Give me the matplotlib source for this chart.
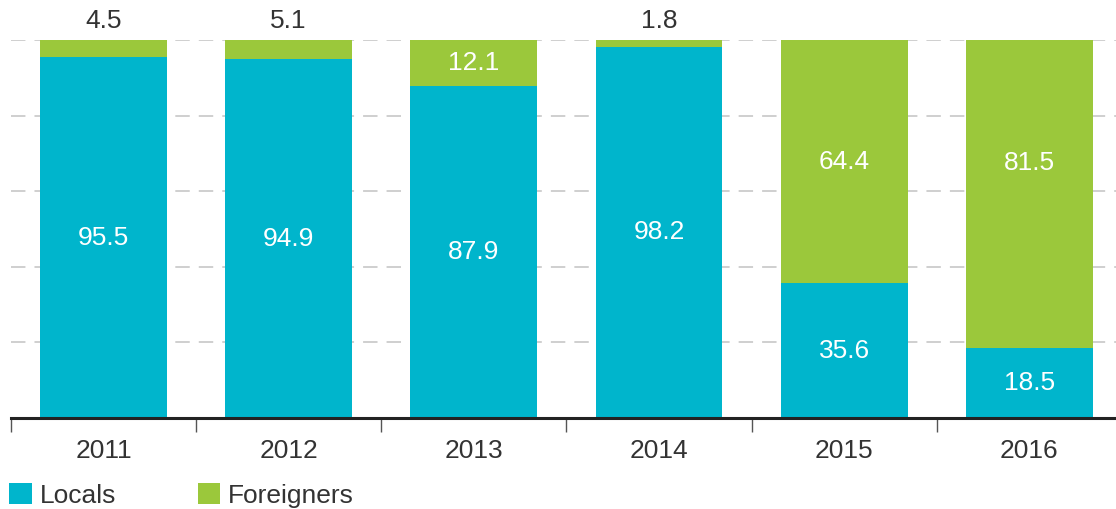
import matplotlib

matplotlib.use("Agg")

import matplotlib.pyplot as plt
import numpy as np
from matplotlib.patches import Patch

years = ["2011", "2012", "2013", "2014", "2015", "2016"]
locals_pct = [95.5, 94.9, 87.9, 98.2, 35.6, 18.5]
foreigners_pct = [4.5, 5.1, 12.1, 1.8, 64.4, 81.5]

TEAL = "#00b5cc"
GREEN = "#9bc83b"
TEXT = "#333333"
FS = 19

plt.rcParams["font.family"] = ["Liberation Sans", "DejaVu Sans"]

W, H = 1116, 509
fig = plt.figure(figsize=(W / 100, H / 100), dpi=100)

# axes placed in pixel terms: x from -0.5..5.5 spans 10.9px..1122px
left_px, right_px = 10.9, 1122.0
bottom_px, top_px = 418.0, 40.0
ax = fig.add_axes([left_px / W, (H - bottom_px) / H,
                   (right_px - left_px) / W, (bottom_px - top_px) / H])

x = np.arange(len(years))
width = 0.685

for y in [20, 40, 60, 80, 100]:
    ax.axhline(y, color="#cccccc", lw=1.3, linestyle=(0, (8, 5)), zorder=0)

ax.bar(x, locals_pct, width, color=TEAL, zorder=2)
ax.bar(x, foreigners_pct, width, bottom=locals_pct, color=GREEN, zorder=2)

for i, (loc, fr) in enumerate(zip(locals_pct, foreigners_pct)):
    ax.text(i, loc / 2, f"{loc:.1f}", ha="center", va="center",
            color="white", fontsize=FS, zorder=3)
    if fr < 10:
        ax.text(i, 101.8, f"{fr:.1f}", ha="center", va="bottom",
                color=TEXT, fontsize=FS, zorder=3)
    else:
        ymid = loc + fr / 2
        if fr > 70:
            ymid = 67.5
        ax.text(i, ymid, f"{fr:.1f}", ha="center", va="center",
                color="white", fontsize=FS, zorder=3)

ax.set_xlim(-0.5, len(years) - 0.5)
ax.set_ylim(0, 100)
ax.set_yticks([])
for side in ["top", "right", "left"]:
    ax.spines[side].set_visible(False)
ax.spines["bottom"].set_linewidth(2.2)
ax.spines["bottom"].set_color("#222222")
ax.spines["bottom"].set_zorder(4)

ax.set_xticks(np.arange(-0.5, len(years), 1.0))
ax.set_xticklabels([])
ax.tick_params(axis="x", which="major", direction="out", length=10,
               width=1.0, color="#555555")
ax.set_xticks(x, minor=True)
ax.set_xticklabels(years, minor=True)
ax.tick_params(axis="x", which="minor", length=0, pad=15,
               labelsize=FS, labelcolor=TEXT)

handles = [Patch(facecolor=TEAL, label="Locals"),
           Patch(facecolor=GREEN, label="Foreigners")]
fig.legend(handles=handles, loc="lower left", bbox_to_anchor=(8 / W, 0.0),
           ncol=2, frameon=False, fontsize=FS, handlelength=0.85,
           handleheight=0.85, handletextpad=0.3, columnspacing=3.1,
           borderaxespad=0.0, borderpad=0.05, labelcolor=TEXT)

fig.savefig("out.png", dpi=100)
